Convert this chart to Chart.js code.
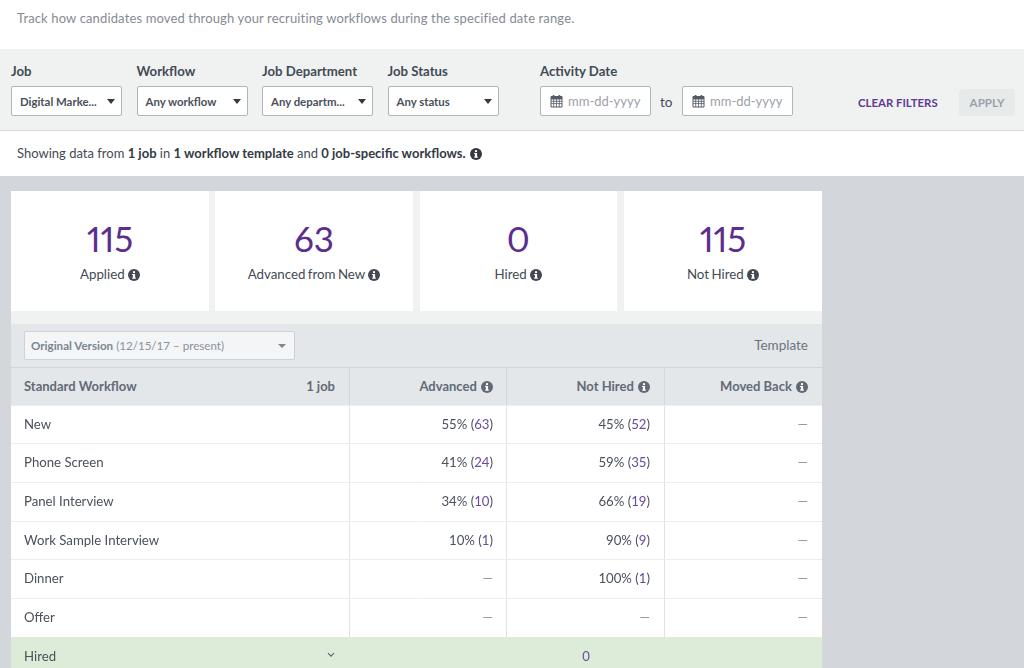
<!DOCTYPE html>
<html><head><meta charset="utf-8">
<script src="https://cdn.jsdelivr.net/npm/chart.js@4/dist/chart.umd.min.js"></script>
<style>
html,body{margin:0;padding:0;width:1024px;height:668px;overflow:hidden;background:#fff;font-family:Lato,sans-serif;color:#3f4650;}
.a{position:absolute;white-space:nowrap;}
.lbl{font-size:13.2px;font-weight:700;color:#434a54;top:63px;line-height:17px;}
.sel{top:86px;height:28px;background:#fff;border:1px solid #aeb4bb;border-radius:2px;font-size:11.4px;font-weight:700;color:#4a515b;line-height:30px;padding-left:8px;}
.car{position:absolute;width:0;height:0;border-left:4.5px solid transparent;border-right:4.5px solid transparent;border-top:5px solid #333a44;top:12px;}
.dt{top:86px;height:28px;width:109px;background:#fff;border:1px solid #aeb4bb;border-radius:2px;font-size:13px;color:#9ba1a9;line-height:29px;}
.dt svg{position:absolute;left:9px;top:7px;}
.dt span{position:absolute;left:27px;}
.card{position:absolute;top:191px;height:119.5px;background:#fff;text-align:center;}
.num{position:absolute;left:0;right:0;top:24px;font-size:35px;line-height:46px;color:#5b2e8e;font-weight:400;font-feature-settings:"pnum" 1;font-variant-numeric:proportional-nums;}
.sub{position:absolute;left:0;right:0;top:74px;font-size:13.3px;line-height:18px;color:#434a54;word-spacing:-1px;}
svg.i{display:inline-block;vertical-align:-1.5px;margin-left:1px;}
.hd{top:378px;font-size:13px;font-weight:700;color:#626a75;line-height:17px;}
.vl{position:absolute;top:368px;height:37px;width:1px;background:#d3d8dd;}
canvas{background:#fff;display:block;}
</style></head><body>
<svg width="0" height="0" style="position:absolute"><defs>
<symbol id="info" viewBox="0 0 12 12"><circle cx="6" cy="6" r="6" fill="currentColor"/><rect x="4.9" y="5" width="2.2" height="4.4" fill="#fff"/><rect x="4.1" y="5" width="1.4" height="1" fill="#fff"/><rect x="4.1" y="8.6" width="3.8" height="1" fill="#fff"/><circle cx="6" cy="3.2" r="1.15" fill="#fff"/></symbol>
<symbol id="cal" viewBox="0 0 13 14"><path d="M1 2.5h11v10.5H1z" fill="none" stroke="#555c66" stroke-width="1"/><path d="M1 5h11M1 7.3h11M1 9.6h11M3.7 5v8M6.5 5v8M9.3 5v8" stroke="#555c66" stroke-width=".8"/><rect x="1" y="2.5" width="11" height="2.5" fill="#555c66"/><rect x="2.8" y="1" width="1.6" height="2.6" fill="#555c66"/><rect x="8.6" y="1" width="1.6" height="2.6" fill="#555c66"/></symbol>
</defs></svg>

<div class="a" style="left:17px;top:9px;font-size:13px;line-height:18px;color:#858b93;letter-spacing:.14px;">Track how candidates moved through your recruiting workflows during the specified date range.</div>

<div class="a" style="left:0;top:49px;width:1024px;height:81px;background:#f0f2f2;border-bottom:1px solid #d5d9de;"></div>
<div class="a lbl" style="left:11px;">Job</div>
<div class="a lbl" style="left:136.5px;">Workflow</div>
<div class="a lbl" style="left:262px;">Job Department</div>
<div class="a lbl" style="left:387.5px;">Job Status</div>
<div class="a lbl" style="left:540px;">Activity Date</div>
<div class="a sel" style="left:11px;width:101px;">Digital Marke...<i class="car" style="left:95px"></i></div>
<div class="a sel" style="left:136.5px;width:101px;">Any workflow<i class="car" style="left:95px"></i></div>
<div class="a sel" style="left:262px;width:101px;">Any departm...<i class="car" style="left:95px"></i></div>
<div class="a sel" style="left:387.5px;width:101px;">Any status<i class="car" style="left:95px"></i></div>
<div class="a dt" style="left:540px;"><svg width="13" height="14"><use href="#cal"/></svg><span>mm-dd-yyyy</span></div>
<div class="a" style="left:660px;top:93px;font-size:13.5px;line-height:18px;color:#434a54;">to</div>
<div class="a dt" style="left:682px;"><svg width="13" height="14"><use href="#cal"/></svg><span>mm-dd-yyyy</span></div>
<div class="a" style="left:858px;top:94px;font-size:11.4px;font-weight:700;line-height:17px;color:#5f3a94;">CLEAR FILTERS</div>
<div class="a" style="left:959px;top:89px;width:56px;height:27px;background:#e6eaeb;border-radius:3px;text-align:center;font-size:11.6px;font-weight:700;line-height:27px;color:#9aa1a8;">APPLY</div>

<div class="a" style="left:17px;top:144px;font-size:13px;line-height:18px;color:#434a54;">Showing data from <b style="color:#333a44">1 job</b> in <b style="color:#333a44">1 workflow template</b> and <b style="color:#333a44">0 job-specific workflows.</b> <svg class="i" width="12" height="12" style="color:#333a44"><use href="#info"/></svg></div>

<div class="a" style="left:0;top:176px;width:1024px;height:492px;background:#d3d7dc;"></div>
<div class="a" style="left:11px;top:191px;width:811px;height:477px;background:#f0f2f2;"></div>

<div class="card" style="left:11px;width:198px;"><div class="num" id="n0"></div><div class="sub"><span id="s0"></span> <svg class="i" width="12" height="12"><use href="#info"/></svg></div></div>
<div class="card" style="left:215px;width:198px;"><div class="num" id="n1"></div><div class="sub"><span id="s1"></span> <svg class="i" width="12" height="12"><use href="#info"/></svg></div></div>
<div class="card" style="left:419.5px;width:197.5px;"><div class="num" id="n2"></div><div class="sub"><span id="s2"></span> <svg class="i" width="12" height="12"><use href="#info"/></svg></div></div>
<div class="card" style="left:624px;width:198px;"><div class="num" id="n3"></div><div class="sub"><span id="s3"></span> <svg class="i" width="12" height="12"><use href="#info"/></svg></div></div>

<div class="a" style="left:11px;top:324px;width:811px;height:43px;background:#e3e7ea;border-bottom:1px solid #cfd4d9;"></div>
<div class="a" style="left:24px;top:331px;width:269px;height:27px;background:#f3f5f7;border:1px solid #ccd2d8;border-radius:2px;font-size:11.6px;line-height:28px;color:#8a929c;"><span style="margin-left:6px;font-weight:700;color:#7c8590">Original Version</span> (12/15/17 – present)<i class="car" style="left:253px;top:12px;border-top-color:#7c8590;border-left-width:4px;border-right-width:4px;border-top-width:4px"></i></div>
<div class="a" style="right:216px;top:336px;font-size:13.5px;line-height:18px;color:#6b7480;">Template</div>

<div class="a" style="left:11px;top:368px;width:811px;height:37px;background:#e3e7ea;"></div>
<div class="vl" style="left:349px"></div><div class="vl" style="left:506px"></div><div class="vl" style="left:664px"></div>
<div class="a hd" style="left:24px;">Standard Workflow</div>
<div class="a hd" style="right:689px;font-weight:700;color:#626a75">1 job</div>
<div class="a hd" style="right:531px;">Advanced <svg class="i" width="12" height="12"><use href="#info"/></svg></div>
<div class="a hd" style="right:374px;">Not Hired <svg class="i" width="12" height="12"><use href="#info"/></svg></div>
<div class="a hd" style="right:216px;">Moved Back <svg class="i" width="12" height="12"><use href="#info"/></svg></div>

<div class="a" style="left:11px;top:405px;width:811px;height:271px;"><canvas id="c" width="811" height="271"></canvas></div>

<script>
const summaryValues = [115, 63, 0, 115];
const summaryLabels = ["Applied", "Advanced from New", "Hired", "Not Hired"];
const stages = ["New", "Phone Screen", "Panel Interview", "Work Sample Interview", "Dinner", "Offer", "Hired"];
const advancedPct = [55, 41, 34, 10, null, null, null];
const advancedCount = [63, 24, 10, 1, null, null, null];
const notHiredPct = [45, 59, 66, 90, 100, null, null];
const notHiredCount = [52, 35, 19, 9, 1, null, null];
const movedBack = [null, null, null, null, null, null, null];
const hiredTotal = 0;

summaryValues.forEach((v, i) => {
  document.getElementById('n' + i).textContent = v;
  document.getElementById('s' + i).textContent = summaryLabels[i];
});

const W = 811;
const DARK = '#4a515b', PURPLE = '#6a4a9c', DASH = '#8a9098';
const FONT = '13.2px Lato';

function cell(ctx, right, y, pct, count) {
  ctx.textAlign = 'right';
  ctx.textBaseline = 'middle';
  if (pct === null) { ctx.fillStyle = DASH; ctx.fillText('—', right, y); return; }
  const parts = [[pct + '% (', DARK], [String(count), PURPLE], [')', DARK]];
  let x = right;
  for (let i = parts.length - 1; i >= 0; i--) {
    ctx.fillStyle = parts[i][1];
    ctx.fillText(parts[i][0], x, y);
    x -= ctx.measureText(parts[i][0]).width;
  }
}

const cellsPlugin = {
  id: 'cells',
  afterDraw(chart) {
    const { ctx, scales: { x, y } } = chart;
    ctx.save();
    ctx.font = FONT;
    stages.forEach((s, i) => {
      const py = y.getPixelForValue(i);
      if (s === 'Hired') {
        ctx.textAlign = 'center'; ctx.textBaseline = 'middle'; ctx.fillStyle = PURPLE;
        ctx.fillText(String(hiredTotal), x.getPixelForValue(575), py);
        ctx.strokeStyle = '#59616c'; ctx.lineWidth = 1.1;
        const cx = x.getPixelForValue(320);
        ctx.beginPath(); ctx.moveTo(cx - 3, py - 3.5); ctx.lineTo(cx, py - 0.5); ctx.lineTo(cx + 3, py - 3.5); ctx.stroke();
        return;
      }
      cell(ctx, x.getPixelForValue(482), py, advancedPct[i], advancedCount[i]);
      cell(ctx, x.getPixelForValue(639), py, notHiredPct[i], notHiredCount[i]);
      cell(ctx, x.getPixelForValue(797), py, movedBack[i], null);
    });
    ctx.restore();
  }
};

function flush(axis) {
  axis.paddingTop = 0; axis.paddingBottom = 0; axis.paddingLeft = 0; axis.paddingRight = 0;
  if (axis.isHorizontal()) axis.height = 0; else axis.width = 0;
}

new Chart(document.getElementById('c'), {
  type: 'bar',
  data: {
    labels: stages,
    datasets: [{
      label: 'Hired row',
      data: stages.map(s => s === 'Hired' ? W : null),
      backgroundColor: '#dcecd8',
      barPercentage: 1,
      categoryPercentage: 1,
      borderWidth: 0
    }]
  },
  options: {
    indexAxis: 'y',
    responsive: false,
    animation: false,
    devicePixelRatio: 1,
    layout: { padding: 0 },
    plugins: { legend: { display: false }, tooltip: { enabled: false } },
    scales: {
      x: {
        type: 'linear', min: 0, max: W,
        afterBuildTicks(axis) { axis.ticks = [338.5, 495.5, 653.5].map(v => ({ value: v })); },
        afterFit: flush,
        ticks: { display: false },
        grid: { color: '#dfe3e8', drawTicks: false },
        border: { display: false }
      },
      y: {
        type: 'category',
        afterFit: flush,
        ticks: { mirror: true, padding: 13, z: 1, color: '#4a515b', font: { family: 'Lato', size: 13.2 } },
        grid: { color: '#e9eeef', drawTicks: false },
        border: { display: false }
      }
    }
  },
  plugins: [cellsPlugin]
});
</script>
</body></html>
